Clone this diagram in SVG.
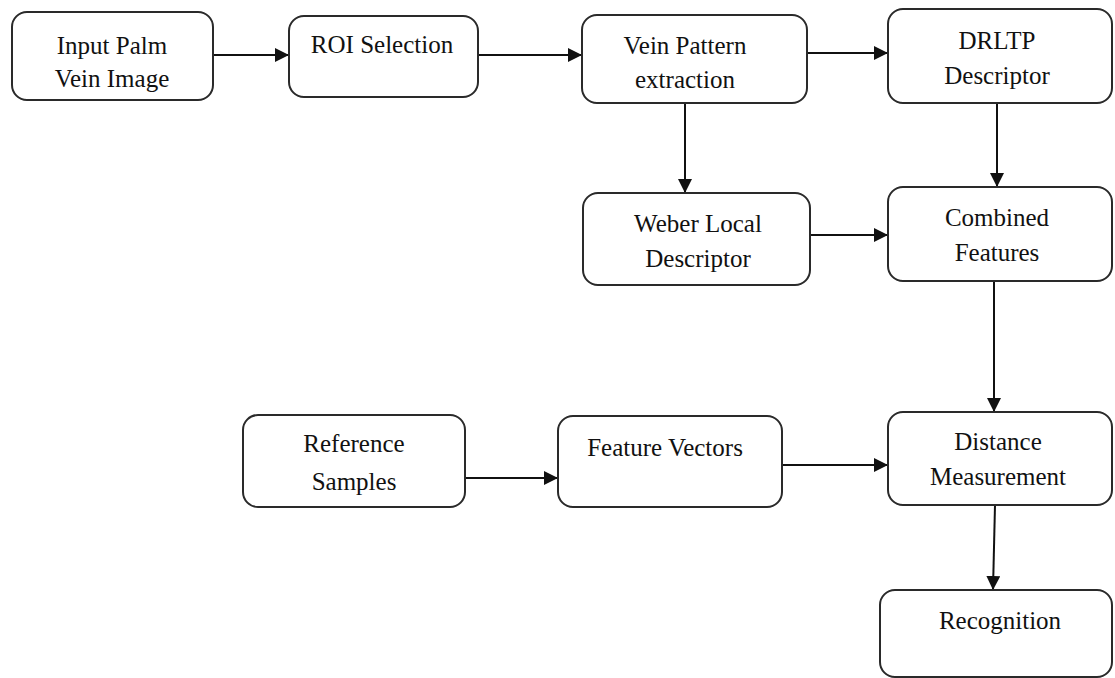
<svg xmlns="http://www.w3.org/2000/svg" width="1115" height="678" viewBox="0 0 1115 678" font-family="Liberation Serif, Times New Roman, serif">
  <style>
    .box { fill: #ffffff; stroke: #2a2a2a; stroke-width: 2; }
    .lbl { font-size: 25px; fill: #111111; text-anchor: middle; }
    .wire { fill: none; stroke: #111111; stroke-width: 2; marker-end: url(#head); }
  </style>
  <defs>
    <marker id="head" viewBox="0 0 14 14" refX="14" refY="7" markerWidth="14" markerHeight="14" markerUnits="userSpaceOnUse" orient="auto">
      <path d="M0,0 L14,7 L0,14 Z" fill="#111111"/>
    </marker>
  </defs>
  <rect width="1115" height="678" fill="#ffffff"/>

  <g id="connectors">
    <line class="wire" x1="213" y1="55" x2="289" y2="55"/>
    <line class="wire" x1="478" y1="55" x2="582" y2="55"/>
    <line class="wire" x1="807" y1="53" x2="888" y2="53"/>
    <line class="wire" x1="685" y1="103" x2="685" y2="193"/>
    <line class="wire" x1="997" y1="103" x2="997" y2="187"/>
    <line class="wire" x1="810" y1="235" x2="888" y2="235"/>
    <line class="wire" x1="994" y1="281" x2="994" y2="412"/>
    <line class="wire" x1="465" y1="478" x2="558" y2="478"/>
    <line class="wire" x1="782" y1="465" x2="888" y2="465"/>
    <line class="wire" x1="995" y1="505" x2="993" y2="590"/>
  </g>

  <g id="input-palm-vein-image">
    <rect class="box" x="12" y="12" width="201" height="88" rx="15"/>
    <text class="lbl" x="112" y="54" font-family="Liberation Serif, serif">Input Palm</text>
    <text class="lbl" x="112" y="87" font-family="Liberation Serif, serif">Vein Image</text>
  </g>
  <g id="roi-selection">
    <rect class="box" x="289" y="16" width="189" height="81" rx="15"/>
    <text class="lbl" x="382" y="53" font-family="Liberation Serif, serif">ROI Selection</text>
  </g>
  <g id="vein-pattern-extraction">
    <rect class="box" x="582" y="15" width="225" height="88" rx="15"/>
    <text class="lbl" x="685" y="54" font-family="Liberation Serif, serif">Vein Pattern</text>
    <text class="lbl" x="685" y="88" font-family="Liberation Serif, serif">extraction</text>
  </g>
  <g id="drltp-descriptor">
    <rect class="box" x="888" y="9" width="224" height="94" rx="15"/>
    <text class="lbl" x="997" y="49" font-family="Liberation Serif, serif">DRLTP</text>
    <text class="lbl" x="997" y="84" font-family="Liberation Serif, serif">Descriptor</text>
  </g>
  <g id="weber-local-descriptor">
    <rect class="box" x="583" y="193" width="227" height="92" rx="15"/>
    <text class="lbl" x="698" y="232" font-family="Liberation Serif, serif">Weber Local</text>
    <text class="lbl" x="698" y="267" font-family="Liberation Serif, serif">Descriptor</text>
  </g>
  <g id="combined-features">
    <rect class="box" x="888" y="187" width="224" height="94" rx="15"/>
    <text class="lbl" x="997" y="226" font-family="Liberation Serif, serif">Combined</text>
    <text class="lbl" x="997" y="261" font-family="Liberation Serif, serif">Features</text>
  </g>
  <g id="reference-samples">
    <rect class="box" x="243" y="415" width="222" height="92" rx="15"/>
    <text class="lbl" x="354" y="452" font-family="Liberation Serif, serif">Reference</text>
    <text class="lbl" x="354" y="490" font-family="Liberation Serif, serif">Samples</text>
  </g>
  <g id="feature-vectors">
    <rect class="box" x="558" y="416" width="224" height="91" rx="15"/>
    <text class="lbl" x="665" y="456" font-family="Liberation Serif, serif">Feature Vectors</text>
  </g>
  <g id="distance-measurement">
    <rect class="box" x="888" y="412" width="224" height="93" rx="15"/>
    <text class="lbl" x="998" y="450" font-family="Liberation Serif, serif">Distance</text>
    <text class="lbl" x="998" y="485" font-family="Liberation Serif, serif">Measurement</text>
  </g>
  <g id="recognition">
    <rect class="box" x="880" y="590" width="232" height="87" rx="15"/>
    <text class="lbl" x="1000" y="629" font-family="Liberation Serif, serif">Recognition</text>
  </g>
</svg>
